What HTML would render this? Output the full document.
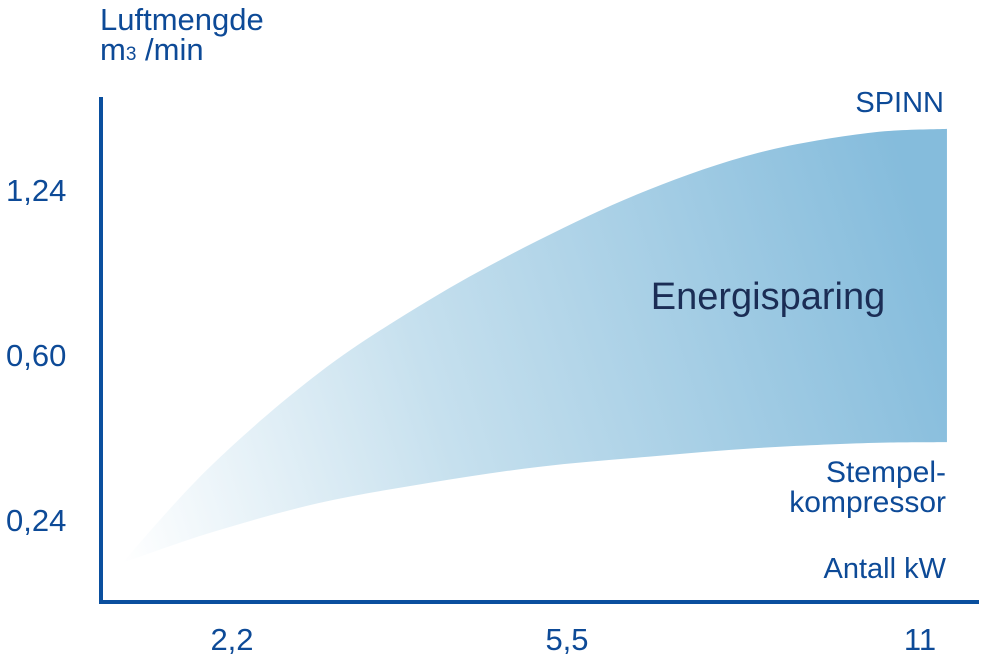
<!DOCTYPE html>
<html><head><meta charset="utf-8"><style>
html,body{margin:0;padding:0;background:#fff;}
svg{display:block;font-family:"Liberation Sans",Arial,sans-serif;}
</style></head><body>
<svg id="chart" width="988" height="671" viewBox="0 0 988 671">
<defs>
<linearGradient id="fillGrad" gradientUnits="userSpaceOnUse" x1="125" y1="570" x2="948" y2="300">
<stop offset="0" stop-color="#ffffff"/>
<stop offset="0.4" stop-color="#c6e0ee"/>
<stop offset="1" stop-color="#85bcdc"/>
</linearGradient>
</defs>
<g id="area"></g>
<line x1="101" y1="97" x2="101" y2="604" stroke="#0a4f9e" stroke-width="4"/>
<line x1="99" y1="602" x2="979" y2="602" stroke="#0a4f9e" stroke-width="4"/>
<text x="100" y="30" font-size="31" fill="#0d4a97">Luftmengde</text>
<text x="100" y="60" font-size="31" fill="#0d4a97">m<tspan font-size="19">3</tspan> /min</text>
<text x="944" y="112" font-size="29" fill="#0d4a97" text-anchor="end">SPINN</text>
<text x="946" y="482" font-size="30" fill="#0d4a97" text-anchor="end">Stempel-</text>
<text x="946" y="512" font-size="30" fill="#0d4a97" text-anchor="end">kompressor</text>
<text x="946" y="578" font-size="29" fill="#0d4a97" text-anchor="end">Antall kW</text>
<text x="768" y="309" font-size="38" fill="#1b2d55" text-anchor="middle">Energisparing</text>
<g id="yticks"></g>
<g id="xticks"></g>
</svg>
<script>
const xTickValues = [2.2, 5.5, 11];
const xTickLabels = ["2,2", "5,5", "11"];
const yTickValues = [0.24, 0.60, 1.24];
const yTickLabels = ["0,24", "0,60", "1,24"];
const kwValues = [1.116, 1.983, 3.057, 4.141, 5.224, 6.762, 8.476, 10.19, 11.42];
const spinnValues = [0.146, 0.356, 0.561, 0.813, 1.046, 1.240, 1.384, 1.461, 1.477];
const stempelValues = [0.146, 0.212, 0.277, 0.321, 0.356, 0.378, 0.397, 0.408, 0.410];

const xPx = [232, 567, 920];
const yPx = [520, 355, 190];
function piecewise(v, dom, rng){
  let i = 0;
  if (v > dom[1]) i = 1;
  return rng[i] + (v - dom[i]) * (rng[i+1] - rng[i]) / (dom[i+1] - dom[i]);
}
function xScale(v){ return piecewise(v, xTickValues, xPx); }
function yScale(v){ return piecewise(v, yTickValues, yPx); }

function smooth(pts){
  let d = "M" + pts[0][0] + "," + pts[0][1];
  for (let i = 0; i < pts.length - 1; i++) {
    const p0 = pts[Math.max(i-1,0)], p1 = pts[i], p2 = pts[i+1], p3 = pts[Math.min(i+2,pts.length-1)];
    const c1x = p1[0] + (p2[0]-p0[0])/6, c1y = p1[1] + (p2[1]-p0[1])/6;
    const c2x = p2[0] - (p3[0]-p1[0])/6, c2y = p2[1] - (p3[1]-p1[1])/6;
    d += " C" + c1x + "," + c1y + " " + c2x + "," + c2y + " " + p2[0] + "," + p2[1];
  }
  return d;
}
const NS = "http://www.w3.org/2000/svg";
const up = kwValues.map((k,i)=>[xScale(k), yScale(spinnValues[i])]);
const lo = kwValues.map((k,i)=>[xScale(k), yScale(stempelValues[i])]);
const loRev = lo.slice().reverse();
let d = smooth(up);
d += " L" + loRev[0][0] + "," + loRev[0][1] + smooth(loRev).replace(/^M[^C]*/, " ") + " Z";
const area = document.createElementNS(NS, "path");


area.setAttribute("d", d);
area.setAttribute("fill", "url(#fillGrad)");
document.getElementById("area").appendChild(area);

const yt = document.getElementById("yticks");
yTickValues.forEach((v,i)=>{
  const t = document.createElementNS(NS, "text");
  
  
  t.setAttribute("x", 6); t.setAttribute("y", yScale(v) + 11);
  t.setAttribute("font-size", "31"); t.setAttribute("fill", "#0d4a97");
  t.textContent = yTickLabels[i];
  yt.appendChild(t);
});
const xt = document.getElementById("xticks");
xTickValues.forEach((v,i)=>{
  const t = document.createElementNS(NS, "text");
  
  
  t.setAttribute("x", xScale(v)); t.setAttribute("y", 650);
  t.setAttribute("text-anchor", "middle");
  t.setAttribute("font-size", "31"); t.setAttribute("fill", "#0d4a97");
  t.textContent = xTickLabels[i];
  xt.appendChild(t);
});
</script>
</body></html>
